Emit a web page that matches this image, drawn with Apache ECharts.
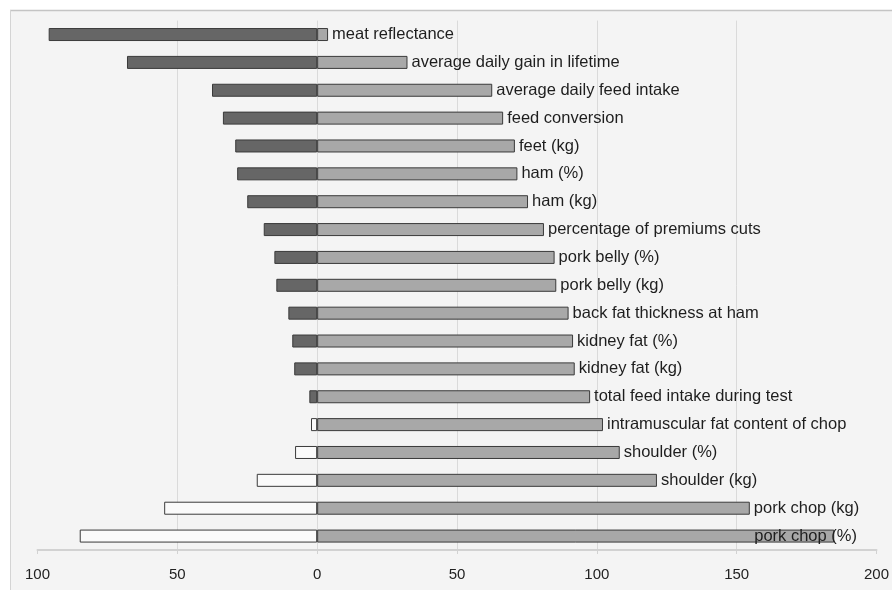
<!DOCTYPE html>
<html>
<head>
<meta charset="utf-8">
<script src="https://cdn.jsdelivr.net/npm/echarts@6/dist/echarts.min.js"></script>
<style>
html,body{margin:0;padding:0;background:#fff;}
#chart{width:892px;height:590px;}
</style>
</head>
<body>
<div id="chart"></div>
<script>
var categories = ['meat reflectance','average daily gain in lifetime','average daily feed intake','feed conversion','feet (kg)','ham (%)','ham (kg)','percentage of premiums cuts','pork belly (%)','pork belly (kg)','back fat thickness at ham','kidney fat (%)','kidney fat (kg)','total feed intake during test','intramuscular fat content of chop','shoulder (%)','shoulder (kg)','pork chop (kg)','pork chop (%)'];
var leftValues = [96, 68, 37.6, 33.7, 29.3, 28.6, 25, 19.1, 15.3, 14.6, 10.3, 8.9, 8.2, 2.8, 2.2, 7.9, 21.6, 54.7, 84.9];
var rightValues = [3.9, 32.3, 62.6, 66.5, 70.7, 71.6, 75.4, 81.1, 84.9, 85.5, 89.9, 91.5, 92.1, 97.6, 102.2, 108.2, 121.5, 154.7, 184.9];
var leftOpen = [false,false,false,false,false,false,false,false,false,false,false,false,false,false,true,true,true,true,true];
var tickMin = -100, tickMax = 200, tickStep = 50;

var chart = echarts.init(document.getElementById('chart'), null, {renderer:'canvas'});
var font = 'Liberation Sans, Arial, sans-serif';

var leftData = leftValues.map(function(v,i){
  return {value:-v, itemStyle:{color: leftOpen[i] ? '#fafafa' : '#666666'}};
});
var rightData = rightValues.map(function(v,i){
  var d = {value:v};
  if (i === rightValues.length-1) d.label = {offset:[-84,0]};
  return d;
});

chart.setOption({
  animation:false,
  backgroundColor:'#ffffff',
  graphic:[
    {type:'rect', silent:true, z:-10, shape:{x:10,y:10,width:882,height:580}, style:{fill:'#f4f4f4'}},
    {type:'line', silent:true, z:-9, shape:{x1:10,y1:10.5,x2:892,y2:10.5}, style:{stroke:'#c4c4c4',lineWidth:1.5}},
    {type:'line', silent:true, z:-9, shape:{x1:10.5,y1:10,x2:10.5,y2:590}, style:{stroke:'#d4d4d4',lineWidth:1}}
  ],
  grid:{left:37.5, right:12, top:20.6, bottom:40, containLabel:false},
  xAxis:{
    type:'value', min:tickMin, max:tickMax, interval:tickStep,
    axisLine:{show:true, lineStyle:{color:'#d2d2d2', width:2}},
    axisTick:{show:true, length:4, lineStyle:{color:'#d2d2d2'}},
    axisLabel:{color:'#222', fontSize:15, fontFamily:font, margin:17, formatter:function(v){return String(Math.abs(v));}},
    splitLine:{show:true, showMinLine:false, showMaxLine:false, lineStyle:{color:'#dadada', width:1}}
  },
  yAxis:{
    type:'category', data:categories, inverse:true,
    axisLine:{show:false}, axisTick:{show:false}, axisLabel:{show:false}, splitLine:{show:false}
  },
  series:[
    {type:'bar', stack:'s', data:leftData, barWidth:13,
     itemStyle:{borderColor:'#3a3a3a', borderWidth:1}},
    {type:'bar', stack:'s', data:rightData, barWidth:13,
     itemStyle:{color:'#a8a8a8', borderColor:'#3a3a3a', borderWidth:1},
     label:{show:true, position:'right', distance:4, color:'#1e1e1e', fontSize:16.5, fontFamily:font,
            formatter:function(p){return categories[p.dataIndex];}}}
  ]
});
</script>
</body>
</html>
